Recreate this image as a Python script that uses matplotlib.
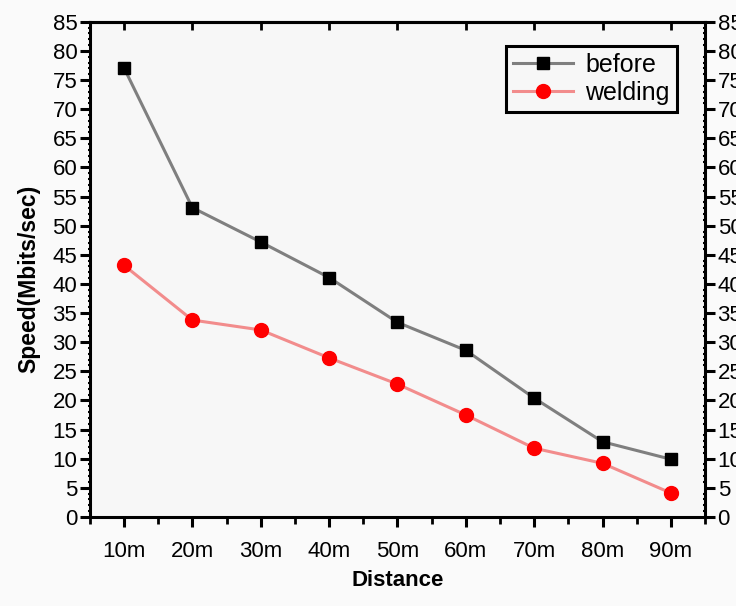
import matplotlib
matplotlib.use("Agg")
import matplotlib.pyplot as plt
from matplotlib.ticker import MultipleLocator

# data
distances = ["10m", "20m", "30m", "40m", "50m", "60m", "70m", "80m", "90m"]
before = [77.1, 53.1, 47.2, 41.1, 33.4, 28.6, 20.4, 12.9, 9.9]
welding = [43.2, 33.8, 32.1, 27.3, 22.8, 17.5, 11.8, 9.2, 4.1]
yticks = list(range(0, 90, 5))

plt.rcParams['font.family'] = ['Liberation Sans', 'DejaVu Sans']

fig = plt.figure(figsize=(7.36, 6.06), dpi=100)
fig.patch.set_facecolor('#fafafa')
ax = fig.add_axes([0.122, 0.147, 0.836, 0.817])
ax.set_facecolor('#f7f7f7')

x = list(range(len(distances)))
ax.plot(x, before, color='#7f7f7f', lw=2.2, marker='s', ms=9,
        mfc='black', mec='black', label='before')
ax.plot(x, welding, color='#f28c8c', lw=2.2, marker='o', ms=10,
        mfc='#ff0000', mec='#ff0000', label='welding')

ax.set_xlim(-0.5, len(distances) - 0.5)
ax.set_ylim(0, 85)
ax.set_xticks(x)
ax.set_xticklabels(distances)
ax.xaxis.set_minor_locator(MultipleLocator(0.5))
ax.set_yticks(yticks)
ax.yaxis.set_minor_locator(MultipleLocator(1))

for s in ax.spines.values():
    s.set_linewidth(2.2)
    s.set_color('black')

ax.tick_params(axis='both', which='major', labelsize=16, width=2.2, length=7,
               direction='out', pad=2)
ax.tick_params(axis='y', which='both', right=True, labelright=True)
ax.tick_params(axis='y', which='minor', width=1.5, length=3, direction='inout')
ax.tick_params(axis='x', which='minor', width=2, length=5, direction='out')
ax.tick_params(axis='x', which='major', pad=10)

ax2 = ax.secondary_xaxis('top')
ax2.set_xticks(x)
ax2.tick_params(direction='in', length=6, width=2, labeltop=False)
ax2.spines['top'].set_linewidth(2.2)

ax.set_ylabel('Speed(Mbits/sec)', fontsize=16.5, fontweight='bold')
ax.yaxis.set_label_coords(-0.08, 0.48)
ax.set_xlabel('Distance', fontsize=16, fontweight='bold', labelpad=6)

leg = ax.legend(loc='upper right', bbox_to_anchor=(0.955, 0.952), fontsize=18,
                frameon=True, fancybox=False, edgecolor='black',
                handlelength=2.4, borderpad=0.3, labelspacing=0.15,
                handletextpad=0.5, borderaxespad=0)
leg.get_frame().set_linewidth(2.2)
leg.get_frame().set_facecolor('#f7f7f7')
leg.get_frame().set_alpha(1)

plt.savefig('out.png', dpi=100, facecolor=fig.get_facecolor())
